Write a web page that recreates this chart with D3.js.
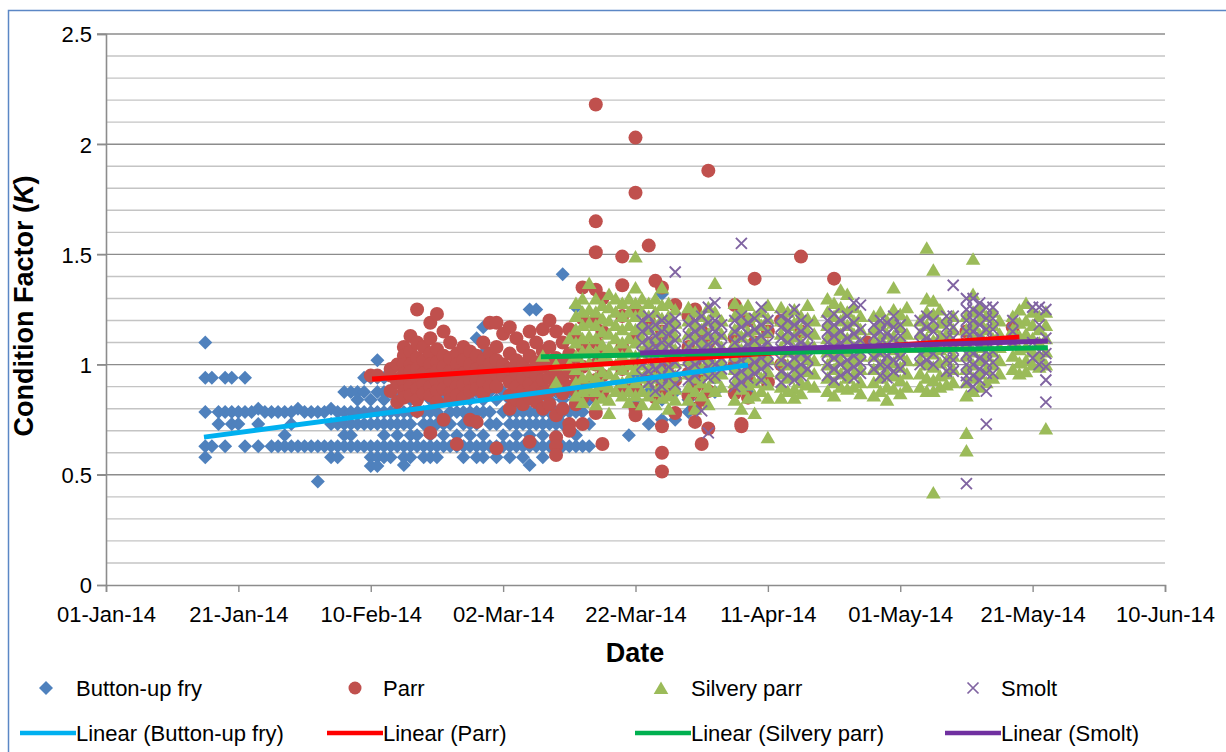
<html>
<head>
<meta charset="utf-8">
<title>Condition factor by date</title>
<script src="https://d3js.org/d3.v7.min.js"></script>
<style>
  body { margin: 0; background: #fff; }
  svg text { font-family: "Liberation Sans", Arial, sans-serif; fill: #000; }
</style>
</head>
<body>
<script>
// day offsets from 01-Jan-2014, condition factor values
var fry = [
  [15,[1.10,0.94,0.785,0.63,0.58]], [16,[0.94,0.63]], [17,[0.785,0.73]], [18,[0.94,0.785,0.63]],
  [19,[0.94,0.785,0.73]], [20,[0.785,0.73]], [21,[0.94,0.785,0.63]], [22,[0.785]],
  [23,[0.80,0.73,0.63]], [24,[0.785]], [25,[0.785,0.63]], [26,[0.785,0.63]],
  [27,[0.785,0.68,0.63]], [28,[0.785,0.73,0.63]], [29,[0.80,0.63]], [30,[0.785,0.63]],
  [31,[0.785,0.63]], [32,[0.785,0.63,0.47]], [33,[0.785,0.63]], [34,[0.80,0.73,0.63,0.58]],
  [35,[0.785,0.73,0.63,0.58]], [36,[0.876,0.785,0.73,0.68,0.63]], [37,[0.876,0.785,0.73,0.68,0.63]],
  [38,[0.876,0.84,0.785,0.73,0.63]], [39,[0.94,0.876,0.785,0.73,0.63]],
  [40,[0.94,0.84,0.785,0.73,0.63,0.58,0.54]], [41,[1.02,0.94,0.876,0.785,0.73,0.63,0.58,0.54]],
  [42,[0.94,0.876,0.84,0.785,0.73,0.68,0.63,0.58]], [43,[0.876,0.785,0.73,0.63,0.58]],
  [44,[0.84,0.785,0.73,0.68,0.63]], [45,[0.876,0.785,0.73,0.63,0.58,0.545]],
  [46,[0.84,0.785,0.73,0.68,0.63,0.58]], [47,[0.94,0.876,0.785,0.68,0.63]],
  [48,[0.876,0.785,0.73,0.63,0.58]], [49,[0.84,0.785,0.73,0.68,0.63,0.58]],
  [50,[0.876,0.785,0.73,0.63,0.58]], [51,[0.94,0.84,0.73,0.68,0.63]], [52,[0.876,0.785,0.73,0.63]],
  [53,[0.94,0.84,0.785,0.68,0.63]], [54,[0.876,0.785,0.73,0.63,0.58]],
  [55,[1.02,0.94,0.84,0.785,0.73,0.68,0.63]], [56,[1.12,0.94,0.876,0.785,0.73,0.63,0.58]],
  [57,[1.17,1.05,0.94,0.84,0.785,0.68,0.63,0.58]], [58,[1.02,0.876,0.785,0.73,0.63]],
  [59,[0.94,0.84,0.73,0.63,0.58]], [60,[0.876,0.785,0.68,0.63]],
  [61,[0.94,0.84,0.785,0.73,0.63,0.58]], [62,[0.876,0.785,0.73,0.68,0.63]],
  [63,[0.94,0.84,0.785,0.73,0.63,0.58]], [64,[1.25,0.876,0.785,0.73,0.68,0.63,0.545]],
  [65,[1.25,0.94,0.84,0.785,0.73,0.63]], [66,[0.876,0.785,0.73,0.68,0.63,0.58]],
  [67,[0.94,0.84,0.785,0.73,0.63]], [68,[0.876,0.785,0.73,0.68,0.63]],
  [69,[1.41,0.94,0.84,0.785,0.73,0.63]], [70,[0.876,0.785,0.73,0.63]],
  [71,[1.26,0.84,0.785,0.68,0.63]], [72,[0.876,0.785,0.73,0.63]], [73,[0.84,0.73,0.63]],
  [79,[0.68]], [80,[0.94,0.84,0.785]], [82,[0.876,0.73]], [84,[1.32,0.94,0.84,0.75]],
  [86,[0.94,0.876,0.75]], [88,[0.84,0.785]], [92,[0.94,0.876]], [97,[1.0,0.94,0.876]]
];

var parr = [
  [40,[0.95]], [41,[0.95]], [43,[0.98,0.95,0.88]], [44,[1.0,0.92,0.83]],
  [45,[1.08,1.04,1.0,0.96,0.92,0.88,0.85]], [46,[1.13,1.06,1.0,0.97,0.93,0.9,0.86]],
  [47,[1.25,1.1,1.03,0.98,0.94,0.89,0.84,0.79]], [48,[1.08,1.02,0.96,0.91,0.87]],
  [49,[1.19,1.12,1.05,1.0,0.95,0.9,0.86,0.69]], [50,[1.23,1.07,1.01,0.97,0.92,0.88,0.83]],
  [51,[1.15,1.04,0.99,0.94,0.89,0.75]], [52,[1.1,1.03,0.97,0.93,0.87,0.84]],
  [53,[1.05,1.0,0.95,0.9,0.86,0.64]], [54,[1.08,1.02,0.96,0.91,0.85]],
  [55,[1.06,1.0,0.93,0.88,0.75]], [56,[1.04,0.98,0.93,0.89,0.74]],
  [57,[1.1,1.02,0.97,0.92,0.87]], [58,[1.19,1.05,1.0,0.95,0.9]],
  [59,[1.19,1.08,1.02,0.96,0.9,0.62]], [60,[1.14,1.0,0.95]],
  [61,[1.17,1.05,0.98,0.92,0.86,0.8]], [62,[1.12,1.02,0.96,0.9,0.84]],
  [63,[1.08,1.0,0.94,0.88,0.82]], [64,[1.15,1.04,0.97,0.91,0.85,0.65]],
  [65,[1.1,1.01,0.95,0.89,0.83]], [66,[1.16,1.06,0.99,0.93,0.87,0.8]],
  [67,[1.2,1.08,1.0,0.94,0.88,0.82]], [68,[1.15,1.03,0.96,0.9,0.77,0.67,0.63,0.59]],
  [69,[1.1,1.0,0.94,0.87,0.8]], [70,[1.16,1.05,0.97,0.9,0.73,0.7]],
  [71,[1.12,1.02,0.95,0.88,0.82]], [72,[1.35,1.21,1.08,0.99,0.92,0.85,0.73]],
  [74,[2.18,1.65,1.51,1.34,1.2,1.1,1.0,0.93,0.86,0.78]], [75,[1.3,1.15,1.05,0.95,0.87,0.64]],
  [78,[1.49,1.36,1.22,1.08,0.98,0.9]], [80,[2.03,1.78,1.25,1.12,1.0,0.9,0.8,0.77]],
  [82,[1.54,1.2,1.05,0.95]], [83,[1.38,1.1,0.98,0.85]], [84,[1.35,1.15,1.02,0.9,0.72,0.6,0.515]],
  [85,[1.12,1.0,0.88]], [86,[1.27,1.05,0.93,0.78]], [88,[1.22,1.08,0.96,0.86]],
  [89,[1.25,1.0,0.9,0.8,0.74]], [90,[1.15,0.95,0.84,0.64]], [91,[1.88,1.1,0.98,0.88,0.71]],
  [95,[1.27,1.12,1.0,0.87]], [96,[1.05,0.92,0.72,0.73]], [97,[1.2,0.95,0.85]],
  [98,[1.39,1.1,1.0]], [100,[1.15,0.92]], [102,[1.2,1.0]], [105,[1.49,1.15,1.05]],
  [110,[1.39,1.12]], [115,[1.1]], [125,[1.08]], [130,[1.15]], [137,[1.17,1.12]]
];

var silvery = [
  [66,[1.04]], [68,[1.0,0.92]], [70,[1.12,1.0]],
  [71,[1.28,1.22,1.16,1.1,1.04,0.98,0.92,0.86]], [72,[1.3,1.24,1.18,1.12,1.06,1.0,0.94,0.88,0.83]],
  [73,[1.37,1.25,1.19,1.13,1.07,1.01,0.95,0.89]], [74,[1.3,1.24,1.18,1.12,1.06,1.0,0.94,0.88,0.82]],
  [75,[1.27,1.21,1.15,1.09,1.03,0.97,0.91,0.85]], [76,[1.32,1.26,1.2,1.14,1.08,1.02,0.96,0.9,0.84,0.78]],
  [77,[1.3,1.24,1.18,1.12,1.06,1.0,0.94,0.88]], [78,[1.28,1.22,1.16,1.1,1.04,0.98,0.92,0.86]],
  [79,[1.3,1.24,1.18,1.12,1.06,1.0,0.94,0.88,0.83]], [80,[1.49,1.35,1.28,1.22,1.16,1.1,1.04,0.98,0.92,0.86]],
  [81,[1.3,1.24,1.18,1.12,1.06,1.0,0.94,0.88,0.82]], [82,[1.28,1.22,1.16,1.1,1.04,0.98,0.92,0.86]],
  [83,[1.3,1.24,1.18,1.12,1.06,1.0,0.94,0.88,0.82]], [84,[1.35,1.27,1.21,1.15,1.09,1.03,0.97,0.91,0.85]],
  [85,[1.28,1.22,1.16,1.1,1.04,0.98,0.92,0.86,0.8]], [86,[1.25,1.19,1.13,1.07,1.01,0.95,0.89,0.84]],
  [88,[1.26,1.2,1.14,1.08,1.02,0.96,0.9,0.84]], [89,[1.24,1.18,1.12,1.06,1.0,0.94,0.88,0.8]],
  [90,[1.22,1.16,1.1,1.04,0.98,0.92,0.86]], [91,[1.26,1.2,1.14,1.08,1.02,0.96,0.9,0.82]],
  [92,[1.37,1.24,1.18,1.12,1.06,1.0,0.94,0.88]], [93,[1.2,1.14,1.08,1.02,0.96,0.9]],
  [95,[1.28,1.22,1.16,1.1,1.04,0.98,0.92,0.84]], [96,[1.25,1.19,1.13,1.07,1.01,0.95,0.89,0.8]],
  [97,[1.27,1.21,1.15,1.09,1.03,0.97,0.91,0.85]], [98,[1.22,1.16,1.1,1.04,0.98,0.92,0.86,0.78]],
  [99,[1.24,1.18,1.12,1.06,1.0,0.94,0.88]], [100,[1.27,1.21,1.15,1.09,1.03,0.97,0.91,0.85,0.67]],
  [102,[1.26,1.2,1.14,1.08,1.02,0.96,0.9,0.85]], [103,[1.24,1.18,1.12,1.06,1.0,0.94,0.88]],
  [104,[1.25,1.19,1.13,1.07,1.01,0.95,0.89,0.85]], [105,[1.22,1.16,1.1,1.04,0.98,0.92,0.87]],
  [106,[1.27,1.21,1.15,1.09,1.03,0.97,0.91]], [107,[1.2,1.14,1.08,1.02,0.96,0.9]],
  [109,[1.3,1.24,1.18,1.12,1.06,1.0,0.94,0.88]], [110,[1.28,1.22,1.16,1.1,1.04,0.98,0.92,0.86]],
  [111,[1.34,1.26,1.2,1.14,1.08,1.02,0.96,0.9]], [112,[1.32,1.24,1.18,1.12,1.06,1.0,0.94,0.89]],
  [113,[1.26,1.2,1.14,1.08,1.02,0.96,0.9]], [114,[1.22,1.16,1.1,1.04,0.98,0.92,0.87]],
  [116,[1.22,1.16,1.1,1.04,0.98,0.92,0.86]], [117,[1.24,1.18,1.12,1.06,1.0,0.94,0.88]],
  [118,[1.2,1.14,1.08,1.02,0.96,0.9,0.84]], [119,[1.35,1.25,1.19,1.13,1.07,1.01,0.95,0.89]],
  [120,[1.23,1.17,1.11,1.05,0.99,0.93,0.87]], [121,[1.26,1.2,1.14,1.08,1.02,0.96,0.9]],
  [123,[1.2,1.14,1.08,1.02,0.96,0.9]], [124,[1.53,1.3,1.24,1.18,1.12,1.06,1.0,0.94,0.88]],
  [125,[1.43,1.29,1.23,1.17,1.11,1.05,0.99,0.93,0.88,0.42]], [126,[1.25,1.19,1.13,1.07,1.01,0.95,0.9]],
  [127,[1.2,1.14,1.08,1.02,0.96,0.91]], [128,[1.22,1.16,1.1,1.04,0.98,0.92]],
  [130,[1.22,1.16,1.1,1.04,0.98,0.92,0.86,0.69,0.61]], [131,[1.48,1.32,1.24,1.18,1.12,1.06,1.0,0.94,0.88]],
  [132,[1.26,1.2,1.14,1.08,1.02,0.96,0.9]], [133,[1.22,1.16,1.1,1.04,0.98,0.92]],
  [134,[1.24,1.18,1.12,1.06,1.0,0.94]], [135,[1.2,1.14,1.08,1.02,0.96]],
  [137,[1.22,1.16,1.1,1.04,0.98]], [138,[1.25,1.19,1.13,1.07,1.01,0.96]],
  [139,[1.28,1.2,1.14,1.08,1.02,0.97]], [140,[1.24,1.18,1.12,1.06,1.0]],
  [141,[1.22,1.16,1.1,1.04,0.99]], [142,[1.24,1.18,1.12,1.06,1.0,0.71]]
];

var smolt = [
  [81,[1.2,1.15,1.1,1.05,1.0,0.95]], [82,[1.22,1.17,1.12,1.07,1.02,0.97,0.92]],
  [83,[1.18,1.13,1.08,1.03,0.98,0.93,0.88]], [84,[1.2,1.15,1.1,1.05,1.0,0.95,0.9]],
  [85,[1.19,1.14,1.09,1.04,0.99,0.94]], [86,[1.42,1.21,1.16,1.11,1.06,1.01,0.96,0.91]],
  [88,[1.18,1.13,1.08,1.03,0.98,0.93]], [89,[1.2,1.15,1.1,1.05,1.0,0.95]],
  [90,[1.22,1.17,1.12,1.07,1.02,0.97,0.79]], [91,[1.26,1.19,1.14,1.09,1.04,0.99,0.94,0.69]],
  [92,[1.28,1.2,1.15,1.1,1.05,1.0,0.95]], [93,[1.18,1.13,1.08,1.03,0.98]],
  [95,[1.2,1.15,1.1,1.05,1.0,0.95,0.9]], [96,[1.55,1.22,1.17,1.12,1.07,1.02,0.97,0.92]],
  [97,[1.19,1.14,1.09,1.04,0.99,0.94]], [98,[1.21,1.16,1.11,1.06,1.01,0.96]],
  [99,[1.26,1.18,1.13,1.08,1.03,0.98,0.93]], [100,[1.2,1.15,1.1,1.05,1.0]],
  [102,[1.22,1.17,1.12,1.07,1.02,0.97,0.92]], [103,[1.2,1.15,1.1,1.05,1.0,0.95]],
  [104,[1.25,1.18,1.13,1.08,1.03,0.98,0.93]], [105,[1.2,1.15,1.1,1.05,1.0,0.95]],
  [106,[1.18,1.13,1.08,1.03,0.98]], [109,[1.2,1.15,1.1,1.05,1.0,0.95]],
  [110,[1.23,1.18,1.13,1.08,1.03,0.98,0.93]], [111,[1.2,1.15,1.1,1.05,1.0,0.95]],
  [112,[1.22,1.17,1.12,1.07,1.02,0.97]], [113,[1.28,1.19,1.14,1.09,1.04,0.99,0.94]],
  [114,[1.27,1.16,1.11,1.06,1.01,0.96]], [116,[1.18,1.13,1.08,1.03,0.98]],
  [117,[1.2,1.15,1.1,1.05,1.0,0.95]], [118,[1.19,1.14,1.09,1.04,0.99,0.94]],
  [119,[1.22,1.17,1.12,1.07,1.02,0.97]], [120,[1.18,1.13,1.08,1.03,0.98]],
  [123,[1.2,1.15,1.1,1.05,1.0]], [124,[1.22,1.17,1.12,1.07,1.02]],
  [125,[1.2,1.15,1.1,1.05,1.0]], [127,[1.22,1.17,1.12,1.07,1.02,0.97]],
  [128,[1.36,1.22,1.17,1.12,1.07,1.02,0.97]], [130,[1.3,1.25,1.2,1.15,1.1,1.05,1.0,0.95,0.92,0.46]],
  [131,[1.3,1.25,1.2,1.15,1.1,1.05,1.0,0.95,0.9]], [132,[1.28,1.23,1.18,1.13,1.08,1.03,0.98,0.93]],
  [133,[1.26,1.21,1.16,1.11,1.06,1.01,0.96,0.88,0.73]], [134,[1.26,1.21,1.16,1.11,1.06,1.01,0.96]],
  [137,[1.2,1.15,1.1]], [140,[1.26,1.1,1.03]], [141,[1.26,1.18,1.06,1.0]],
  [142,[1.25,1.12,1.05,0.99,0.93,0.83]]
];

// linear trend lines: [start day, start K], [end day, end K]
var fryTrend = [[14.8, 0.671], [97, 0.998]];
var parrTrend = [[40.2, 0.935], [138, 1.125]];
var silveryTrend = [[65.7, 1.036], [142.3, 1.077]];
var smoltTrend = [[80.7, 1.053], [142.3, 1.107]];

var seriesNames = ["Button-up fry", "Parr", "Silvery parr", "Smolt"];
var yTicks = [0, 0.5, 1, 1.5, 2, 2.5];
var xTickDays = [0, 20, 40, 60, 80, 100, 120, 140, 160];

var width = 1226, height = 752;
var start = new Date(2014, 0, 1);
function toDate(d) { return new Date(2014, 0, 1 + d); }

var svg = d3.select("body").append("svg")
    .attr("width", width).attr("height", height);

// outer chart border
svg.append("rect")
    .attr("x", 8.5).attr("y", 10.5)
    .attr("width", 1260).attr("height", 800)
    .attr("fill", "none").attr("stroke", "#5B87C5").attr("stroke-width", 1.5);

var x = d3.scaleTime()
    .domain([start, toDate(160)])
    .range([106, 1165]);
var y = d3.scaleLinear()
    .domain([0, 2.5])
    .range([585, 34]);

// gridlines, minor every 0.1
var minor = d3.range(1, 25).map(function(i) { return i / 10; });
svg.append("g").selectAll("line")
    .data(minor.filter(function(v) { return Math.round(v * 10) % 5 != 0; }))
    .enter().append("line")
    .attr("x1", 106).attr("x2", 1165)
    .attr("y1", function(d) { return y(d); }).attr("y2", function(d) { return y(d); })
    .attr("stroke", "#C4C4C4").attr("stroke-width", 1.4);
svg.append("g").selectAll("line")
    .data(yTicks.filter(function(v) { return v > 0; }))
    .enter().append("line")
    .attr("x1", 97).attr("x2", 1165)
    .attr("y1", function(d) { return y(d); }).attr("y2", function(d) { return y(d); })
    .attr("stroke", "#8C8C8C").attr("stroke-width", 1.4);

// axes
var yAxis = svg.append("g")
    .attr("transform", "translate(106,0)")
    .call(d3.axisLeft(y).tickValues(yTicks).tickSize(9).tickPadding(5).tickFormat(d3.format("")));
var xAxis = svg.append("g")
    .attr("transform", "translate(0,585)")
    .call(d3.axisBottom(x).tickValues(xTickDays.map(toDate)).tickSize(7).tickPadding(14)
        .tickFormat(d3.timeFormat("%d-%b-%y")));
[yAxis, xAxis].forEach(function(a) {
    a.select(".domain").attr("stroke", "#8C8C8C").attr("stroke-width", 1.6);
    a.selectAll(".tick line").attr("stroke", "#8C8C8C").attr("stroke-width", 1.4);
    a.selectAll(".tick text").attr("font-size", 22).attr("font-family", "Liberation Sans, Arial, sans-serif").attr("fill", "#000");
});
yAxis.selectAll(".tick text").attr("dy", "0.36em");

function flatten(series) {
    var pts = [];
    series.forEach(function(s) {
        s[1].forEach(function(k) { pts.push([s[0], k]); });
    });
    return pts;
}

var diamond = "M0,-7L7,0L0,7L-7,0Z";
var triangle = "M0,-6.5L7.3,6L-7.3,6Z";
var cross = "M-5.5,-5.5L5.5,5.5M-5.5,5.5L5.5,-5.5";

var plot = svg.append("g");
plot.append("g").selectAll("path").data(flatten(fry)).enter().append("path")
    .attr("d", diamond).attr("fill", "#4F81BD")
    .attr("transform", function(d) { return "translate(" + x(toDate(d[0])) + "," + y(d[1]) + ")"; });
plot.append("g").selectAll("circle").data(flatten(parr)).enter().append("circle")
    .attr("r", 7).attr("fill", "#C0504D")
    .attr("cx", function(d) { return x(toDate(d[0])); })
    .attr("cy", function(d) { return y(d[1]); });
plot.append("g").selectAll("path").data(flatten(silvery)).enter().append("path")
    .attr("d", triangle).attr("fill", "#9BBB59")
    .attr("transform", function(d) { return "translate(" + x(toDate(d[0])) + "," + y(d[1]) + ")"; });
plot.append("g").selectAll("path").data(flatten(smolt)).enter().append("path")
    .attr("d", cross).attr("fill", "none").attr("stroke", "#8064A2").attr("stroke-width", 1.9)
    .attr("transform", function(d) { return "translate(" + x(toDate(d[0])) + "," + y(d[1]) + ")"; });

// trend lines
var trendLine = d3.line()
    .x(function(d) { return x(new Date(start.getTime() + d[0] * 864e5)); })
    .y(function(d) { return y(d[1]); });
var trends = [[fryTrend, "#00B0F0"], [parrTrend, "#FF0000"], [silveryTrend, "#00B050"], [smoltTrend, "#7030A0"]];
trends.forEach(function(t) {
    svg.append("path").attr("d", trendLine(t[0]))
        .attr("fill", "none").attr("stroke", t[1]).attr("stroke-width", 5);
});

// axis titles
svg.append("text")
    .attr("transform", "translate(33,306) rotate(-90)")
    .attr("text-anchor", "middle")
    .attr("font-size", 27).attr("font-weight", "bold")
    .html('Condition Factor (<tspan font-style="italic">K</tspan>)');
svg.append("text")
    .attr("x", 635).attr("y", 662)
    .attr("text-anchor", "middle")
    .attr("font-size", 27).attr("font-weight", "bold")
    .text("Date");

// legend
var legendX = [20, 327, 635, 945];
var markers = [diamond, null, triangle, cross];
var markerColors = ["#4F81BD", "#C0504D", "#9BBB59", "#8064A2"];
var lg = svg.append("g");
seriesNames.forEach(function(name, i) {
    var lx = legendX[i];
    if (i == 1) {
        lg.append("circle").attr("cx", lx + 28).attr("cy", 688).attr("r", 6.5).attr("fill", markerColors[i]);
    } else if (i == 3) {
        lg.append("path").attr("d", cross).attr("transform", "translate(" + (lx + 28) + ",688)")
            .attr("fill", "none").attr("stroke", markerColors[i]).attr("stroke-width", 1.7);
    } else {
        lg.append("path").attr("d", markers[i]).attr("transform", "translate(" + (lx + 26) + ",688)")
            .attr("fill", markerColors[i]);
    }
    lg.append("text").attr("x", lx + 56).attr("y", 688).attr("dy", "0.36em")
        .attr("font-size", 22).text(name);
    lg.append("line").attr("x1", lx).attr("x2", lx + 56).attr("y1", 733).attr("y2", 733)
        .attr("stroke", trends[i][1]).attr("stroke-width", 4.5);
    lg.append("text").attr("x", lx + 56).attr("y", 733).attr("dy", "0.36em")
        .attr("font-size", 22).text("Linear (" + name + ")");
});
</script>
</body>
</html>
